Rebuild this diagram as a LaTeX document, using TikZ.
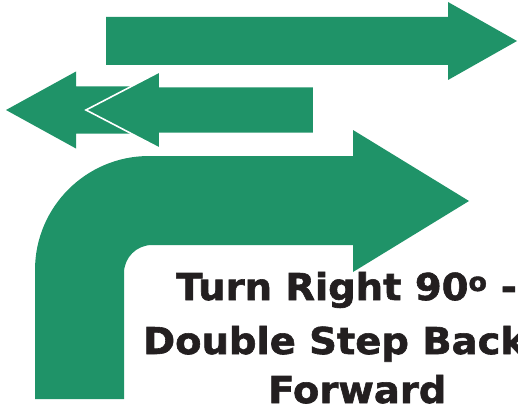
\documentclass[tikz,border=0pt]{standalone}
\usepackage{fontspec}
\newfontfamily\signfont[FakeStretch=1.04,FakeBold=1.6]{DejaVu Sans}
\usepackage{tikz}
\definecolor{signgreen}{RGB}{31,147,104}
\definecolor{signblack}{RGB}{35,31,32}

\begin{document}
\begin{tikzpicture}[
  x=1pt,y=1pt,
  arrowshape/.style={fill=signgreen,draw=none},
  outlined/.style={fill=signgreen,draw=white,line width=1.6pt,line join=miter},
  caption/.style={anchor=base west,inner sep=0pt,text=signblack,font=\signfont\bfseries\fontsize{37}{44}\selectfont}
]
\useasboundingbox (0,0) rectangle (518,405);
% forward arrow on top
\fill[arrowshape] (106,388) -- (448,388) -- (448,403) -- (517,364) -- (448,325) -- (448,340) -- (106,340) -- cycle;
% double step back
\fill[arrowshape] (200,318.5) -- (76,318.5) -- (76,333.5) -- (6,295) -- (76,256.5) -- (76,271.5) -- (200,271.5) -- cycle;
\filldraw[outlined] (314,318.5) -- (160,318.5) -- (160,333.5) -- (86,295) -- (160,256.5) -- (160,271.5) -- (314,271.5) -- cycle;
% turn right
\fill[arrowshape] (35,6) -- (35,135) arc[start angle=180,end angle=90,radius=114]
  -- (353,249) -- (353,275) -- (469,204) -- (353,133) -- (353,160) -- (152,160)
  arc[start angle=90,end angle=180,radius=28] -- (124,6) -- cycle;
% caption
\node[caption] (turnline) at (176,105) {Turn Right 90\textsuperscript{o} -};
\node[caption] (stepline) at (143,51) {Double Step Back};
\node[caption] (fwdline) at (268,2) {Forward};
\end{tikzpicture}
\end{document}
